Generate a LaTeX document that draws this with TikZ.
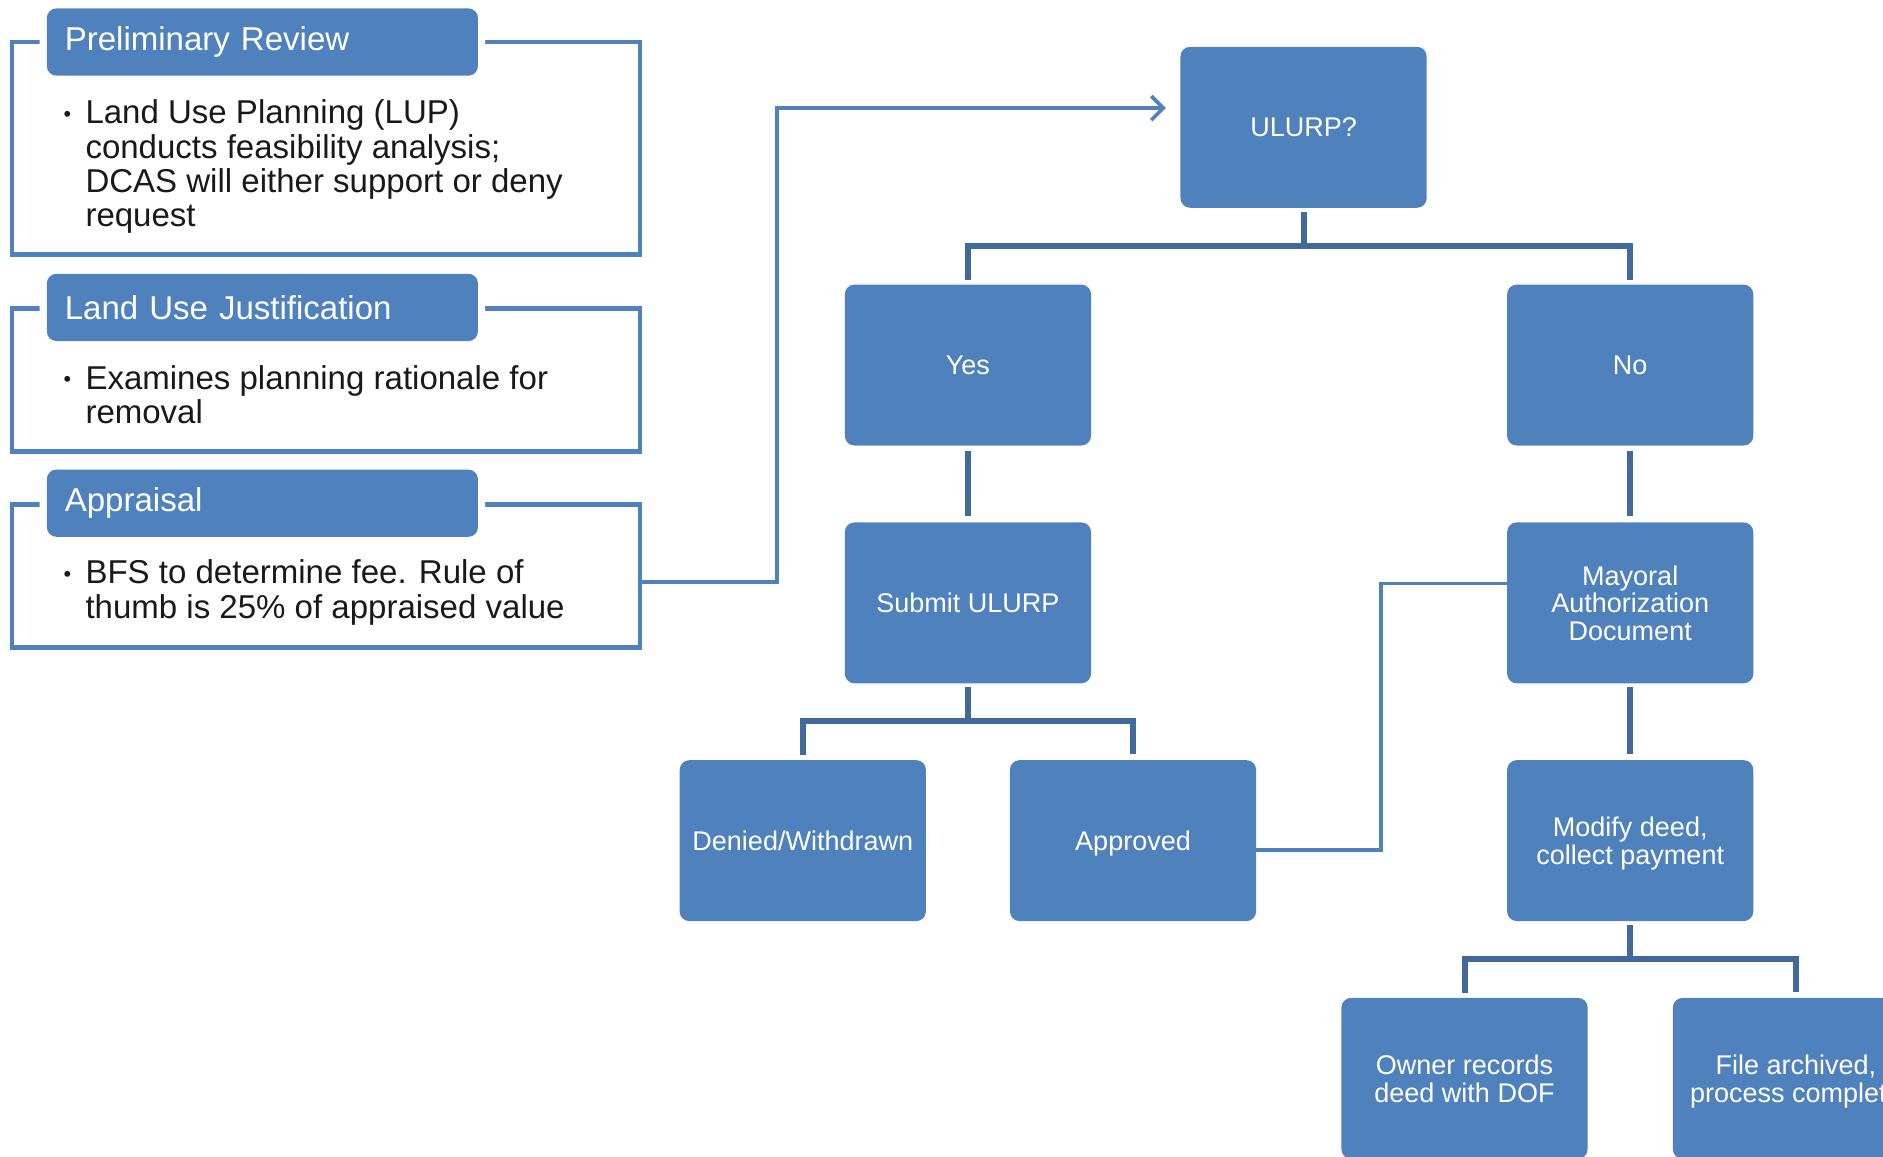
\documentclass[tikz,border=0pt]{standalone}
\usepackage{fontspec}
\setmainfont{Liberation Sans}
\usetikzlibrary{arrows.meta}

\definecolor{boxblue}{HTML}{4F81BD}
\definecolor{linkblue}{HTML}{41699A}

\newcommand{\bulletmark}{\llap{{\fontsize{18}{18}\selectfont\raisebox{2pt}{•}}\hspace{12pt}}}

\tikzset{
  flowbox/.style={rectangle,rounded corners=8pt,fill=boxblue,text=white,
    minimum width=205pt,minimum height=134pt,align=center,inner sep=0pt,
    text depth=0pt,font=\fontsize{22.5}{23}\selectfont},
  headbox/.style={rectangle,rounded corners=8pt,fill=boxblue,text=white,
    preaction={draw=white,line width=12pt},
    text width=329pt,inner xsep=15pt,minimum height=56pt,align=left,
    font=\fontsize{27.5}{28.6}\selectfont},
  panel/.style={rectangle,draw=boxblue,line width=4pt,minimum width=523pt},
  bodytext/.style={anchor=north west,inner sep=0pt,align=left,text=black!90,
    font=\fontsize{27.5}{28.6}\selectfont},
  treeline/.style={draw=linkblue,line width=5pt},
  feedline/.style={draw=boxblue,line width=3pt}
}

\begin{document}
\begin{tikzpicture}[x=1pt,y=-1pt]
                \useasboundingbox (0,0) rectangle (1568,963);
                \clip (0,0) rectangle (1568,963);
                \node[panel,minimum height=177pt] (prpanel) at (271.5,123.5) {};
                \node[headbox] (prhead) at (218.5,35) {Preliminary Review};
                \node[bodytext] (prtext) at (71,83) {\bulletmark Land Use Planning (LUP)\\conducts feasibility analysis;\\DCAS will either support or deny\\request};
                \node[panel,minimum height=119pt] (lujpanel) at (271.5,316.5) {};
                \node[headbox] (lujhead) at (218.5,256) {Land Use Justification};
                \node[bodytext] (lujtext) at (71,304) {\bulletmark Examines planning rationale for\\removal};
                \node[panel,minimum height=119pt] (appanel) at (271.5,479.5) {};
                \node[headbox] (aphead) at (218.5,419) {Appraisal};
                \node[bodytext] (aptext) at (71,466) {\bulletmark BFS to determine fee. Rule of\\thumb is 25\% of appraised value};
                \node[flowbox] (ulurp) at (1085.5,106) {ULURP?};
                \node[flowbox] (yes) at (806,304) {Yes};
                \node[flowbox] (no) at (1357.5,304) {No};
                \node[flowbox] (submit) at (806,502) {Submit ULURP};
                \node[flowbox] (mayoral) at (1357.5,502) {Mayoral\\Authorization\\Document};
                \node[flowbox,text depth=] (denied) at (668.5,700) {Denied/Withdrawn};
                \node[flowbox] (approved) at (943.5,700) {Approved};
                \node[flowbox] (modify) at (1357.5,700) {Modify deed,\\collect payment};
                \node[flowbox] (owner) at (1219.5,898) {Owner records\\deed with DOF};
                \node[flowbox] (archived) at (1495.5,898) {File archived,\\process complete};
                \draw[treeline,shorten <=3pt] (ulurp.south) -- ++(0,32) coordinate (ulsplit);
                \draw[treeline,shorten <=4pt,shorten >=4pt] (yes.north) |- (ulsplit) -| (no.north);
                \draw[treeline,shorten <=4pt,shorten >=5pt] (yes.south) -- (submit.north);
                \draw[treeline,shorten <=4pt,shorten >=5pt] (no.south) -- (mayoral.north);
                \draw[treeline,shorten <=3pt] (submit.south) -- ++(0,31) coordinate (subsplit);
                \draw[treeline,shorten <=4pt,shorten >=5pt] (denied.north) |- (subsplit) -| (approved.north);
                \draw[treeline,shorten <=3pt,shorten >=5pt] (mayoral.south) -- (modify.north);
                \draw[treeline,shorten <=3pt] (modify.south) -- ++(0,31) coordinate (modsplit);
                \draw[treeline,shorten <=4pt,shorten >=5pt] (owner.north) |- (modsplit) -| (archived.north);
                \draw[feedline,-{Straight Barb[length=10pt,width=20pt]}] ([yshift=-5pt]appanel.east) -- ++(112,0) |- ([xshift=-12pt,yshift=16pt]ulurp.west);
                \draw[feedline] ([yshift=-8pt]approved.east) -- ++(104,0) |- ([yshift=16pt]mayoral.west);
\end{tikzpicture}
\end{document}
